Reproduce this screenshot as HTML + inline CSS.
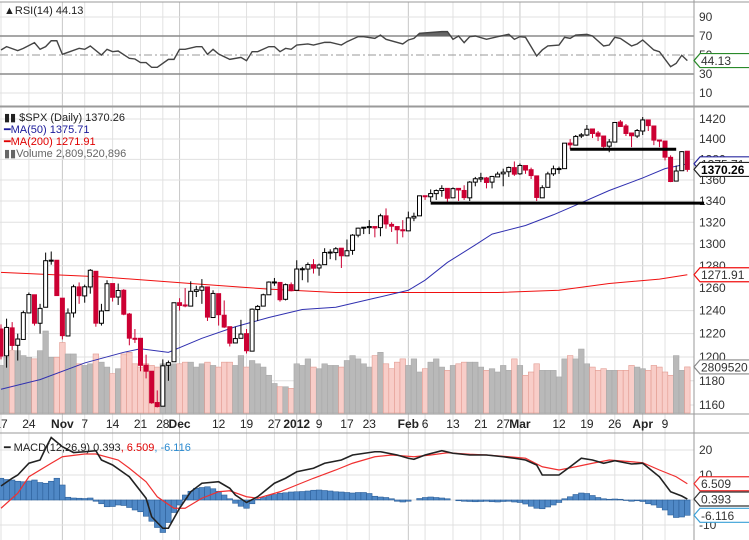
<!DOCTYPE html>
<html><head><meta charset="utf-8"><title>$SPX Daily</title>
<style>
html,body{margin:0;padding:0;background:#fff;width:749px;height:540px;overflow:hidden}
svg{display:block;font-family:"Liberation Sans",sans-serif}
</style></head>
<body>
<svg id="chart" width="749" height="540" viewBox="0 0 749 540" xmlns="http://www.w3.org/2000/svg">
<defs>
<clipPath id="cpR"><rect x="0" y="2" width="694" height="104"/></clipPath>
<clipPath id="cpP"><rect x="0" y="107" width="694" height="307"/></clipPath>
<clipPath id="cpM"><rect x="0" y="433" width="694" height="107"/></clipPath>
<clipPath id="cpAbove70"><rect x="0" y="0" width="694" height="36"/></clipPath>
</defs>
<rect x="0" y="0" width="749" height="540" fill="#fff"/>
<g id="grid"></g>
<g id="rsi" clip-path="url(#cpR)"></g>
<g id="vol" clip-path="url(#cpP)"></g>
<g id="price" clip-path="url(#cpP)"></g>
<g id="macd" clip-path="url(#cpM)"></g>
<g id="axes"></g>
<g id="legend">
  <text x="4" y="14" font-size="11" fill="#222">▲RSI(14) 44.13</text>
  <text x="4" y="121" font-size="11" fill="#222">▮▮ $SPX (Daily) 1370.26</text>
  <text x="4" y="133" font-size="11" fill="#1a1a9a">━MA(50) 1375.71</text>
  <text x="4" y="145" font-size="11" fill="#e00000">━MA(200) 1271.91</text>
  <text x="4" y="157" font-size="11" fill="#666">▮▮Volume 2,809,520,896</text>
  <text x="4" y="451" font-size="11" fill="#222">━ MACD(12,26,9) 0.393<tspan fill="#e00000">, 6.509</tspan><tspan fill="#2a8ad0">, -6.116</tspan></text>
</g>
</svg>
<script>
const closes=[1200.86,1225.38,1209.88,1215.39,1238.25,1254.19,1229.05,1242.00,1284.59,1285.09,1253.30,1218.28,1237.90,1261.15,1253.23,1261.12,1275.92,1229.10,1239.69,1263.85,1251.78,1257.81,1236.91,1216.13,1215.65,1192.98,1188.04,1161.79,1158.67,1192.55,1195.19,1246.96,1244.58,1244.28,1257.08,1258.47,1261.01,1234.35,1255.19,1236.47,1225.73,1211.82,1215.75,1219.66,1205.35,1241.30,1243.72,1254.00,1265.33,1265.43,1249.64,1263.02,1257.60,1277.06,1277.30,1281.06,1277.81,1280.70,1292.08,1292.48,1295.50,1289.09,1293.67,1308.04,1314.50,1315.38,1316.00,1314.65,1326.06,1318.43,1316.33,1313.01,1312.41,1324.09,1325.54,1344.90,1344.33,1347.05,1349.96,1351.95,1342.64,1351.77,1350.50,1343.23,1358.04,1361.23,1362.21,1357.66,1363.46,1365.74,1367.59,1372.18,1365.68,1374.09,1369.63,1364.33,1343.36,1352.63,1365.91,1370.87,1371.09,1395.95,1394.28,1402.60,1404.17,1409.75,1405.52,1402.89,1392.78,1397.11,1416.51,1412.52,1405.54,1403.28,1408.47,1419.04,1413.38,1398.96,1398.08,1382.20,1358.59,1368.71,1387.57,1370.26];
const opens=[1224,1201,1225,1210,1215,1238,1254,1229,1243,1285,1285,1251,1218,1238,1261,1253,1261,1275,1229,1240,1264,1252,1258,1237,1216,1216,1193,1188,1162,1159,1193,1196,1247,1245,1244,1257,1258,1261,1234,1255,1236,1226,1212,1216,1220,1205,1241,1244,1254,1265,1265,1250,1263,1258,1277,1277,1281,1278,1281,1292,1292,1296,1289,1294,1308,1315,1315,1316,1315,1326,1318,1316,1313,1312,1324,1326,1345,1344,1347,1350,1352,1343,1352,1350,1343,1358,1361,1362,1358,1363,1366,1368,1372,1366,1374,1370,1364,1343,1353,1366,1371,1371,1396,1394,1403,1404,1410,1406,1403,1393,1397,1417,1413,1406,1403,1408,1419,1413,1399,1398,1382,1359,1369,1388];
const highs=[1228,1233,1230,1220,1240,1256,1254,1246,1292,1293,1285,1251,1242,1263,1265,1263,1277,1275,1246,1267,1264,1264,1259,1238,1224,1216,1202,1188,1172,1198,1197,1247,1251,1260,1266,1262,1268,1261,1258,1255,1249,1226,1226,1232,1224,1242,1245,1255,1266,1269,1265,1264,1265,1285,1279,1283,1286,1282,1296,1295,1297,1296,1304,1309,1315,1315,1322,1315,1328,1333,1320,1316,1322,1330,1329,1345,1345,1351,1351,1355,1352,1353,1351,1355,1359,1363,1367,1363,1364,1368,1371,1373,1378,1376,1374,1372,1364,1355,1368,1374,1373,1396,1400,1404,1406,1414,1410,1408,1403,1400,1417,1419,1415,1406,1410,1422,1419,1413,1399,1398,1384,1374,1388,1388];
const lows=[1198,1191,1206,1197,1215,1238,1227,1220,1243,1281,1253,1215,1218,1234,1246,1247,1255,1226,1227,1240,1248,1245,1236,1210,1212,1188,1182,1161,1158,1159,1180,1196,1240,1243,1244,1252,1246,1231,1234,1227,1225,1209,1212,1216,1203,1205,1231,1244,1254,1262,1248,1249,1257,1258,1267,1265,1273,1271,1281,1286,1285,1278,1289,1290,1306,1309,1309,1306,1307,1314,1311,1300,1306,1312,1321,1326,1341,1339,1341,1344,1337,1343,1340,1341,1340,1354,1358,1352,1352,1363,1354,1363,1364,1365,1366,1361,1340,1343,1353,1364,1366,1371,1390,1394,1401,1403,1401,1398,1391,1387,1397,1412,1403,1392,1401,1404,1408,1394,1392,1379,1358,1359,1369,1368];
const volumes=[2.9,3.4,3.8,3.8,3.5,3.4,3.3,3.8,5.0,3.4,3.4,4.3,3.6,3.6,3.0,2.9,3.0,3.6,3.1,2.8,2.4,2.7,3.6,3.7,3.0,2.8,3.0,2.9,2.8,3.0,3.0,3.0,3.0,3.1,3.1,2.8,3.0,3.1,2.9,2.8,3.1,3.1,2.9,3.5,2.8,3.2,3.0,2.8,2.3,1.8,1.6,1.6,1.5,3.0,2.9,3.3,2.8,2.7,3.0,2.9,2.9,2.8,3.2,3.5,3.3,3.0,2.8,3.5,3.7,3.0,2.7,3.1,3.3,2.9,3.3,2.5,2.7,3.1,3.3,2.8,2.6,2.9,3.0,3.1,3.1,3.1,2.8,2.6,2.7,2.5,2.9,2.6,3.3,2.9,2.3,2.5,3.0,2.6,2.6,2.6,2.2,3.3,3.5,3.3,3.9,3.0,2.8,2.6,2.7,2.6,2.6,2.6,2.6,2.9,2.8,2.7,2.6,2.9,2.8,2.5,2.3,3.5,2.6,2.81];
const ma50Idx=[0,7,15,22,25,30,36,42,48,54,60,67,73,76,80,85,88,94,99,103,109,115,119,123];
const ma50Vals=[1173,1181,1195,1204,1207,1204,1216,1226,1234,1241,1243,1251,1258,1267,1283,1299,1309,1317,1327,1336,1350,1362,1371,1375.71];
const ma200Idx=[0,18,34,48,60,67,89,100,109,118,123];
const ma200Vals=[1274,1270,1264,1259,1256,1256,1256,1258,1264,1268,1271.91];
const rsiIdx=[0,1,3,4,6,7,8,9,10,11,14,15,16,18,19,20,21,23,24,25,26,27,28,30,31,32,33,35,36,37,38,39,41,43,44,45,46,48,49,50,51,52,53,55,56,58,59,61,62,64,65,67,68,69,72,73,74,75,79,80,81,82,83,84,85,87,89,91,92,93,94,95,96,97,98,100,101,102,103,105,106,108,109,110,111,113,114,115,117,118,120,121,122,123];
const rsiVals=[55.3,58.8,54.6,57,63,56,58.8,65,65,50.7,57,56,59.5,50,56,53.5,54.2,46.5,45.8,42,42,37,37,45.4,45.4,56,56,58.8,58.8,50.7,56,51,45.4,47.5,44,53.5,53.5,58.8,58.8,53.5,57,56,60.5,61.6,60.5,63.3,63.3,60.5,64,69.3,69.3,67.5,71,66.5,61.6,65.8,67.5,72.8,74.6,74.6,66.5,70,63,69.3,70,66.5,69.3,71.8,66.5,69.3,68.6,58.8,49,55.3,59.5,60.5,68.6,67.5,71,71.8,70,59.5,60.5,68.6,67.5,59.5,61.6,65.8,55.3,53.5,37.7,41.2,49.7,44.13];
const macdIdx=[0,2,3,5,7,8,9,11,13,15,17,18,20,23,26,27,29,30,32,34,36,39,41,42,44,46,49,51,53,56,58,61,63,67,68,71,73,74,76,79,81,84,87,90,92,94,96,97,100,102,104,106,108,110,113,115,118,120,122,123];
const macdVals=[5.6,8.7,10,14.7,16,20.7,25,21.3,19,19.3,19.7,16,14,9.3,0.7,-6.7,-11.3,-11.3,-3.3,3.3,6.7,7.3,4.7,2,-1,1.3,6.7,8.7,11.3,12.7,14.7,16,18,19.3,19.3,18,16.7,16.3,18,19.7,18.7,18,18,17.3,16.7,16,14,10,10,13.3,16.7,16,14.7,15.7,14.4,14.7,9.3,3.3,1.6,0.393];
const sigIdx=[0,3,5,9,11,15,17,21,23,26,28,31,33,36,39,41,44,46,50,53,56,60,63,67,70,74,77,80,84,87,91,94,97,100,103,106,109,113,115,118,121,123];
const sigVals=[-3.3,2.7,9.3,14.7,17.3,18.4,18.4,16,12.7,7.3,1.3,-3.3,-3.3,0.7,3.3,3.7,1.3,0.7,3.3,6,8.7,12,14.7,17.3,18,17.3,18,18.9,18.3,18,17.3,16.7,13.3,12,13.3,14.7,16,15.3,14.9,12,9.3,6.509];
const histVals=[8.7,8.2,8,7.5,7.3,7.6,8,7,6.7,7.5,8.7,6,1.1,0.8,0.7,0.6,0.8,-0.5,-1.5,-2.7,-2.6,-2,-2.2,-3,-4,-4.7,-6.5,-8.5,-11,-13,-9,-5,-2,2,3.5,4.7,5,5.3,4.5,3.5,2,0.5,-1.3,-2.5,-3.3,-1.5,0.3,1,1.8,2.2,2.7,2.9,3.2,3.3,3.4,3.6,3.9,4,3.8,3.6,3.3,3.2,3,2.8,3,3,2.6,1.5,1.2,1,0.5,-0.5,-0.8,-0.5,0,0.6,1,1.2,1,0.8,0.5,0,-0.3,-0.5,-0.6,-0.7,-0.6,-0.5,-0.7,-0.8,-0.6,-0.5,-0.8,-1,-1.6,-2.5,-3.3,-3.5,-2.8,-2,-1,0.5,1.3,2.2,2.8,2.6,1.8,1,0.5,0.3,0.4,0.3,-0.2,-0.5,-0.3,-0.6,-1.5,-2,-3,-4,-6,-7,-6.8,-6.116];
const dateIdx=[0,5,11,15,20,25,29,32,39,44,49,53,57,62,66,73,76,81,86,90,93,100,105,110,115,119];
const dateLabels=["17","24","Nov","7","14","21","28","Dec","12","19","27","2012","9","17","23","Feb","6","13","21","27","Mar","12","19","26","Apr","9"];
const priceTicks=[1160,1180,1200,1220,1240,1260,1280,1300,1320,1340,1360,1380,1400,1420];
const rsiTicks=[10,30,50,70,90];
const macdTicks=[-10,10,20];
const supportLevels=[1390,1338];
const supportStart=[102,77];
const supportEnd=[121,126];

const NS="http://www.w3.org/2000/svg";
const PR=694;
function xOf(i){return 1+i*5.58;}
function yP(p){return 119+1414*Math.log(1420/p);}
function yV(v){return 413-v*16.4;}
function yR(r){return 36+(70-r)*0.95;}
function yM(m){return 500-m*2.5;}
function mk(tag,attrs,parent){const e=document.createElementNS(NS,tag);for(const k in attrs)e.setAttribute(k,attrs[k]);parent.appendChild(e);return e;}
const G=document.getElementById('grid'),R=document.getElementById('rsi'),V=document.getElementById('vol'),P=document.getElementById('price'),M=document.getElementById('macd'),A=document.getElementById('axes');

dateIdx.forEach((d,k)=>{
  const x=xOf(d);
  const bold=/[A-Za-z]|2012/.test(dateLabels[k]);
  const l=mk('line',{x1:x,x2:x,y1:2,y2:540,stroke:bold?'#c8c8c8':'#e2e2e2','stroke-width':1},G);
  
  
  const t=mk('text',{x:x,y:428,'text-anchor':'middle','font-size':12,'font-weight':bold?'bold':'normal',fill:'#222'},A);
  t.textContent=dateLabels[k];
  
  
});
priceTicks.forEach(p=>{
  const y=yP(p);
  const l=mk('line',{x1:0,x2:PR,y1:y,y2:y,stroke:'#e0e0e0'},G);
  
  
  const t=mk('text',{x:699,y:y+4,'font-size':12,fill:'#333'},A);
  t.textContent=p;
  
  
});
rsiTicks.forEach(r=>{
  const y=yR(r);
  const strong=(r===70||r===30);
  const l=mk('line',{x1:0,x2:PR,y1:y,y2:y,stroke:strong?'#8a8a8a':(r===50?'#999':'#e0e0e0'),'stroke-width':strong?1.5:1,'stroke-dasharray':r===50?'8,3,2,3':'none'},G);
  
  
  const t=mk('text',{x:699,y:y+4,'font-size':12,fill:'#333'},A);
  t.textContent=r;
  
  
});
macdTicks.concat([0]).forEach(m=>{
  const y=yM(m);
  const l=mk('line',{x1:0,x2:PR,y1:y,y2:y,stroke:'#e0e0e0'},G);
  
  
});
macdTicks.forEach(m=>{
  const t=mk('text',{x:699,y:yM(m)+4,'font-size':12,fill:'#333'},A);
  t.textContent=m;
  
  
});
[[0,2,749,2],[0,106,749,106],[0,107,749,107],[0,414,749,414],[0,433,749,433],[PR,0,PR,540]].forEach(s=>{
  const l=mk('line',{x1:s[0],y1:s[1],x2:s[2],y2:s[3],stroke:'#9a9a9a'},A);
  
  
});

const rsiPts=rsiIdx.map((d,k)=>xOf(d)+','+yR(rsiVals[k])).join(' ');
const rf=mk('polygon',{points:xOf(rsiIdx[0])+','+yR(70)+' '+rsiPts+' '+xOf(rsiIdx[rsiIdx.length-1])+','+yR(70),fill:'#666','clip-path':'url(#cpAbove70)'},R);


const rl=mk('polyline',{points:rsiPts,fill:'none',stroke:'#444','stroke-width':1.4},R);



volumes.forEach((v,i)=>{
  const down=i>0&&closes[i]<closes[i-1];
  const r=mk('rect',{x:xOf(i)-2.79,y:yV(v),width:5.58,height:413-yV(v),fill:down?'#f8cdc8':'#b9b9b9',stroke:down?'#e29a90':'#a8a8a8','stroke-width':0.6},V);
  
  
});
const m200=mk('polyline',{points:ma200Idx.map((d,k)=>xOf(d)+','+yP(ma200Vals[k])).join(' '),fill:'none',stroke:'#f01010','stroke-width':1},P);


const m50=mk('polyline',{points:ma50Idx.map((d,k)=>xOf(d)+','+yP(ma50Vals[k])).join(' '),fill:'none',stroke:'#3030b0','stroke-width':1},P);


closes.forEach((c,i)=>{
  const o=opens[i],x=xOf(i);
  const down=c<o;
  const w=mk('line',{x1:x,x2:x,y1:yP(highs[i]),y2:yP(lows[i]),stroke:down?'#cc0033':'#000','stroke-width':1},P);
  
  
  const top=yP(Math.max(o,c)),bot=yP(Math.min(o,c));
  const b=mk('rect',{x:x-2,y:top,width:4,height:Math.max(1,bot-top),fill:down?'#cc0033':'#fff',stroke:down?'#cc0033':'#000','stroke-width':1},P);
  
  
});
supportLevels.forEach((lv,k)=>{
  const l=mk('line',{x1:xOf(supportStart[k]),x2:xOf(supportEnd[k]),y1:yP(lv),y2:yP(lv),stroke:'#000','stroke-width':3},A);
  
  
});

histVals.forEach((h,i)=>{
  const y0=yM(0),y1=yM(h);
  const r=mk('rect',{x:xOf(i)-2.79,y:Math.min(y0,y1),width:5.58,height:Math.abs(y1-y0),fill:'#4f88c6',stroke:'#2c5f99','stroke-width':0.6},M);
  
  
});
const sl=mk('polyline',{points:sigIdx.map((d,k)=>xOf(d)+','+yM(sigVals[k])).join(' '),fill:'none',stroke:'#f03030','stroke-width':1.2},M);


const ml=mk('polyline',{points:macdIdx.map((d,k)=>xOf(d)+','+yM(macdVals[k])).join(' '),fill:'none',stroke:'#222','stroke-width':1.6},M);



function box(y,txt,color,bold,name){
  const g=mk('g',{},A);
  
  
  const w=52;
  const p=mk('path',{d:`M${PR},${y} L${PR+6},${y-7} L${PR+6+w},${y-7} L${PR+6+w},${y+7} L${PR+6},${y+7} Z`,fill:'#fff',stroke:color,'stroke-width':1.2},g);
  
  
  const t=mk('text',{x:PR+7,y:y+4.5,'font-size':12,'font-weight':bold?'bold':'normal',fill:bold?'#000':'#333'},g);
  t.textContent=txt;
  
  
}
box(yP(1375.71),'1375.71','#2a2aa0',false,'ma50-value-box');
box(yP(1370.26),'1370.26','#222',true,'last-price-box');
box(yP(1271.91),'1271.91','#f01010',false,'ma200-value-box');
box(yV(2.81),'2809520','#888',false,'volume-value-box');
box(yR(44.13),'44.13','#2a8a2a',false,'rsi-value-box');
box(yM(6.509),'6.509','#f03030',false,'signal-value-box');
box(yM(0.393),'0.393','#333',false,'macd-value-box');
box(yM(-6.116),'-6.116','#3aa0d8',false,'histogram-value-box');
</script>
</body></html>
